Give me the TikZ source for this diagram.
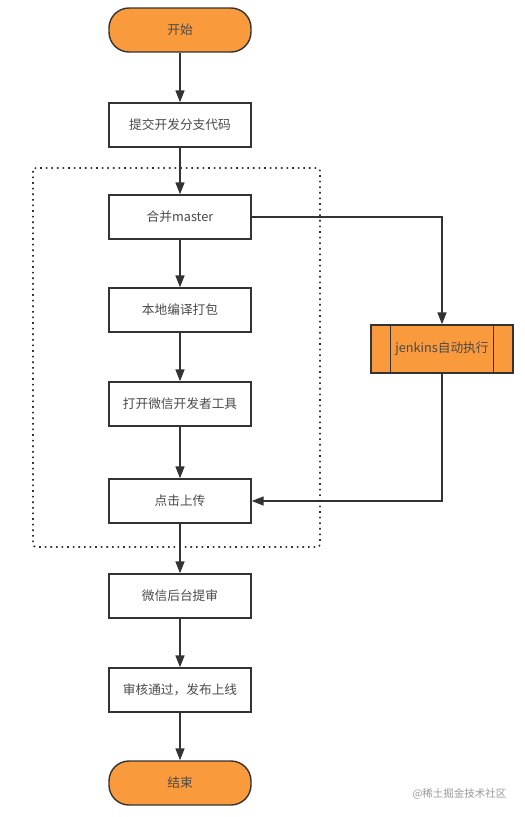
\documentclass[tikz,border=0pt]{standalone}
\usepackage{fontspec}
\newfontfamily\cjk{Noto Sans CJK SC}
\usetikzlibrary{arrows.meta,positioning}
\definecolor{orng}{HTML}{F99A3C}
\definecolor{edge}{HTML}{333333}
\definecolor{txt}{HTML}{4A4A4A}
\tikzset{
  box/.style={draw=edge, line width=1.4pt, fill=white, minimum width=142pt, minimum height=44pt, inner sep=0pt, font=\cjk\fontsize{12.7}{15}\selectfont, text=txt},
  term/.style={box, fill=orng, rounded corners=20pt},
  proc/.style={box, fill=orng, minimum width=142pt, minimum height=48pt},
  conn/.style={draw=edge, line width=1.6pt, -{Triangle[width=9pt,length=12pt]}},
}
\begin{document}
\begin{tikzpicture}[x=1pt,y=-1pt]
\useasboundingbox (0,0) rectangle (525,817);
\draw[edge, line width=1.6pt, dash pattern=on 1.6pt off 4pt, rounded corners=3pt] (33,168) rectangle (320,547);
\node[term] (start) at (180,30) {开始};
\node[box] (b1) at (180,125) {提交开发分支代码};
\node[box] (b2) at (180,217) {合并master};
\node[box] (b3) at (180,310) {本地编译打包};
\node[box] (b4) at (180,404) {打开微信开发者工具};
\node[box] (b5) at (180,501) {点击上传};
\node[box] (b6) at (180,596) {微信后台提审};
\node[box] (b7) at (180,690) {审核通过，发布上线};
\node[term] (end) at (180,783) {结束};
\node[proc] (jk) at (442,349) {jenkins自动执行};
\draw[edge, line width=1.4pt] ([xshift=20pt]jk.north west) -- ([xshift=20pt]jk.south west);
\draw[edge, line width=1.4pt] ([xshift=-20pt]jk.north east) -- ([xshift=-20pt]jk.south east);
\draw[conn] (start) -- (b1);
\draw[conn] (b1) -- (b2);
\draw[conn] (b2) -- (b3);
\draw[conn] (b3) -- (b4);
\draw[conn] (b4) -- (b5);
\draw[conn] (b5) -- (b6);
\draw[conn] (b6) -- (b7);
\draw[conn] (b7) -- (end);
\draw[conn] (b2.east) -| (jk.north);
\draw[conn] (jk.south) |- (b5.east);
\node[font=\cjk\fontsize{10.5}{12}\selectfont, text=black!40, anchor=east] (wm) at (510,794) {@稀土掘金技术社区};
\end{tikzpicture}
\end{document}
